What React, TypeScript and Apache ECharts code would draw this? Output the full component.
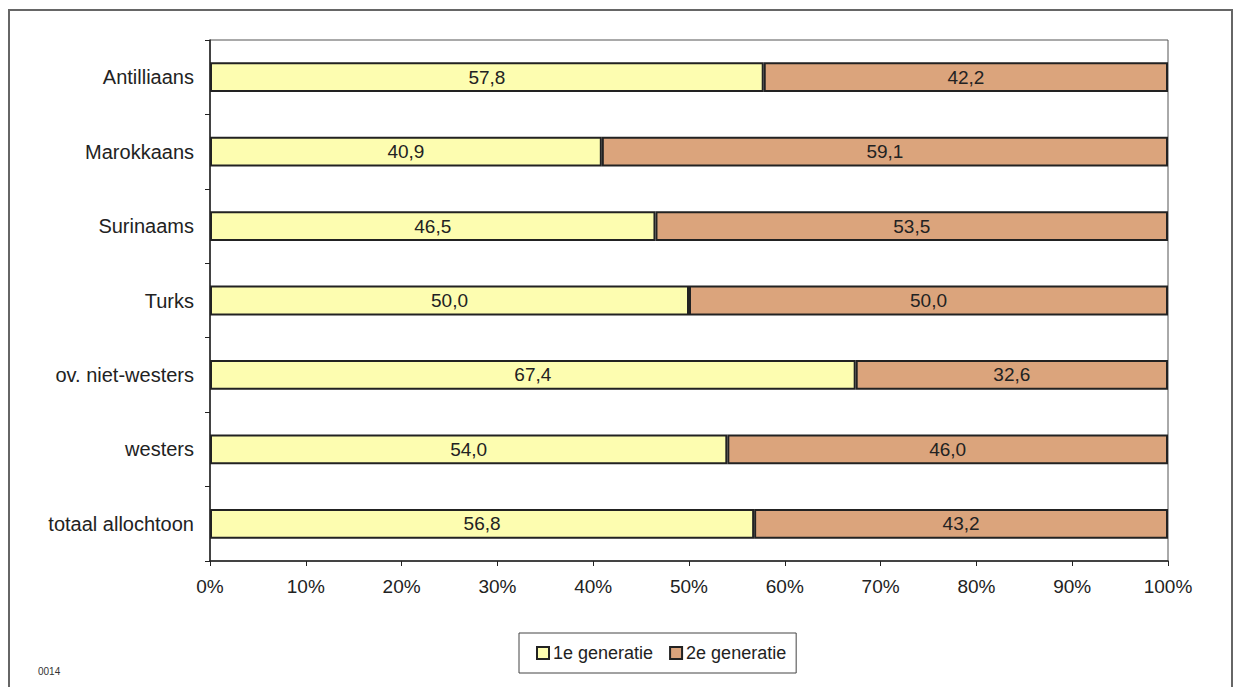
import React, { useEffect, useRef } from "react";
import * as echarts from "echarts";

const categories = [
  "Antilliaans",
  "Marokkaans",
  "Surinaams",
  "Turks",
  "ov. niet-westers",
  "westers",
  "totaal allochtoon",
];
const gen1 = [57.8, 40.9, 46.5, 50.0, 67.4, 54.0, 56.8];
const gen2 = [42.2, 59.1, 53.5, 50.0, 32.6, 46.0, 43.2];
const seriesNames = ["1e generatie", "2e generatie"];
const xTicks = { min: 0, max: 100, interval: 10 };

const fmt = (v: number) => v.toFixed(1).replace(".", ",");

export default function App() {
  const ref = useRef<HTMLDivElement>(null);
  useEffect(() => {
    if (!ref.current) return;
    const chart = echarts.init(ref.current, undefined, { renderer: "svg" });
    const font = "'Liberation Sans', Arial, sans-serif";
    const labelStyle = {
      show: true,
      position: "inside" as const,
      color: "#222",
      fontSize: 19,
      fontFamily: font,
      formatter: (p: any) => fmt(p.value),
    };
    chart.setOption({
      animation: false,
      backgroundColor: "#fff",
      textStyle: { fontFamily: font },
      grid: {
        left: 210,
        right: 69,
        top: 40,
        bottom: 126,
        show: true,
        borderColor: "#555",
        borderWidth: 1,
      },
      xAxis: {
        type: "value",
        min: xTicks.min,
        max: xTicks.max,
        interval: xTicks.interval,
        axisLine: { show: true, lineStyle: { color: "#222", width: 1.5 } },
        axisTick: { show: true, length: 5, lineStyle: { color: "#222" } },
        splitLine: { show: false },
        axisLabel: {
          formatter: "{value}%",
          color: "#222",
          fontSize: 19,
          fontFamily: font,
          margin: 16,
        },
      },
      yAxis: {
        type: "category",
        data: categories,
        inverse: true,
        axisLine: { show: true, lineStyle: { color: "#222", width: 1.5 } },
        axisTick: { show: true, length: 5, lineStyle: { color: "#222" } },
        axisLabel: {
          color: "#222",
          fontSize: 20,
          fontFamily: font,
          margin: 16,
        },
      },
      legend: {
        data: seriesNames,
        left: 519,
        top: 633,
        orient: "horizontal",
        itemWidth: 12,
        itemHeight: 12,
        itemGap: 16,
        icon: "rect",
        borderColor: "#444",
        borderWidth: 1,
        padding: [11, 10, 11, 17],
        textStyle: { color: "#222", fontSize: 18, fontFamily: font, padding: [0, 0, 0, -1] },
      },
      series: [
        {
          name: seriesNames[0],
          type: "bar",
          stack: "total",
          data: gen1,
          barWidth: "40%",
          itemStyle: { color: "#FDFDB0", borderColor: "#222", borderWidth: 2 },
          label: labelStyle,
        },
        {
          name: seriesNames[1],
          type: "bar",
          stack: "total",
          data: gen2,
          barWidth: "40%",
          itemStyle: { color: "#DBA47C", borderColor: "#222", borderWidth: 2 },
          label: labelStyle,
        },
      ],
      graphic: [
        {
          type: "rect",
          shape: { x: 9, y: 10, width: 1223, height: 690 },
          style: { fill: "none", stroke: "#666", lineWidth: 2 },
          silent: true,
        },
        {
          type: "text",
          x: 38,
          y: 666,
          style: { text: "0014", fill: "#333", fontSize: 10, fontFamily: font },
        },
      ],
    });
    return () => chart.dispose();
  }, []);
  return (
    <div
      ref={ref}
      style={{ position: "absolute", left: 0, top: 0, width: 1237, height: 687 }}
    />
  );
}
